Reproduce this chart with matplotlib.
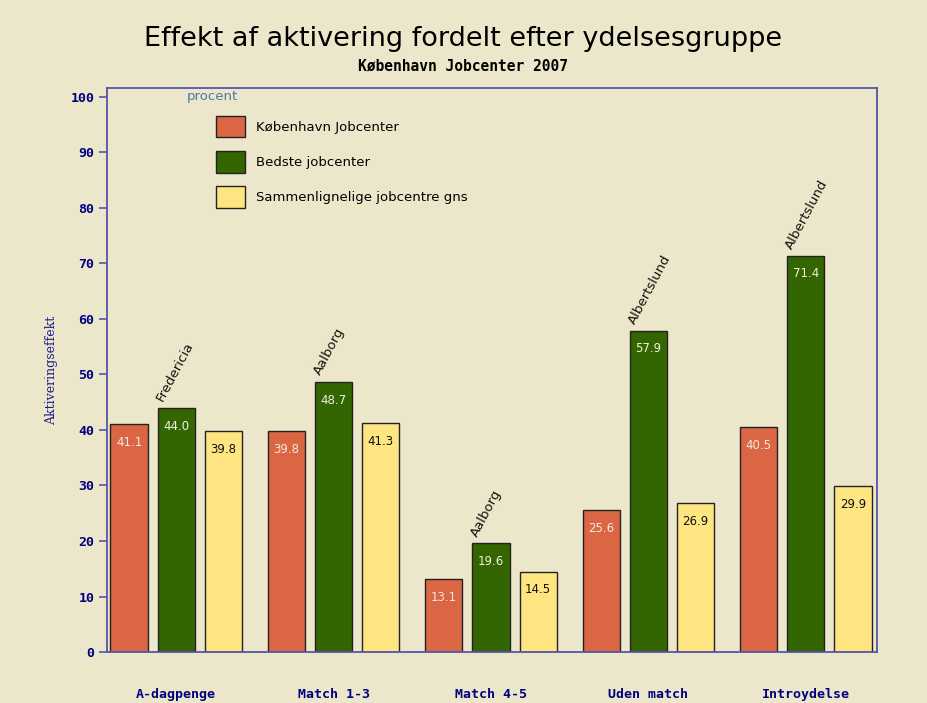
import numpy as np
import matplotlib.pyplot as plt
from matplotlib.patches import Patch

# --- data ---
categories = ["A-dagpenge", "Match 1-3", "Match 4-5", "Uden match", "Introydelse"]
kbh = [41.1, 39.8, 13.1, 25.6, 40.5]
bedste = [44.0, 48.7, 19.6, 57.9, 71.4]
sammen = [39.8, 41.3, 14.5, 26.9, 29.9]
bedste_navn = ["Fredericia", "Aalborg", "Aalborg", "Albertslund", "Albertslund"]
series_names = ["København Jobcenter", "Bedste jobcenter", "Sammenlignelige jobcentre gns"]

bg = "#ECE7CA"
colors = ["#DB6644", "#336600", "#FFE482"]
txt_colors = ["#F4E8E0", "#F0F0E0", "#111111"]
navy = "#000080"

fig = plt.figure(figsize=(9.27, 7.03), dpi=100, facecolor=bg)
ax = fig.add_axes([0.1154, 0.0725, 0.8306, 0.8023], facecolor=bg)

x = np.arange(len(categories))
pitch, width = 0.30, 0.236
for k, (vals, c, tc) in enumerate(zip([kbh, bedste, sammen], colors, txt_colors)):
    pos = x + (k - 1) * pitch
    ax.bar(pos, vals, width, color=c, edgecolor="#222222", linewidth=1.0, zorder=2)
    for p, v in zip(pos, vals):
        ax.text(p, v - 3.3, f"{v:.1f}", ha="center", va="center", fontsize=8.5, color=tc, zorder=3)

# names of the best jobcenter above the green bars
for p, v, name in zip(x, bedste, bedste_navn):
    ax.text(p - 0.07, v + 0.8, name, rotation=62, rotation_mode="anchor",
            ha="left", va="bottom", fontsize=9.5, color="#111111")

ax.set_xlim(-0.44, 4.452)
ax.set_ylim(0, 101.6)
ax.set_yticks(np.arange(0, 101, 10))
ax.set_xticks(x)
ax.set_xticklabels(categories, family="DejaVu Sans Mono", fontweight="bold", fontsize=9.5, color=navy)
ax.tick_params(axis="x", length=0, pad=26)
ax.tick_params(axis="y", length=6, width=1.2, color="#5555AA", pad=3, labelcolor=navy)
for lab in ax.get_yticklabels():
    lab.set_family("DejaVu Sans Mono")
    lab.set_fontweight("bold")
    lab.set_fontsize(9.5)

for s in ax.spines.values():
    s.set_color("#5555AA")
    s.set_linewidth(1.3)

ax.set_ylabel("Aktiveringseffekt", family="DejaVu Serif", fontsize=9, color="#1A1A90", labelpad=9)

# legend
handles = [Patch(facecolor=c, edgecolor="#222222", linewidth=1.0) for c in colors]
leg = ax.legend(handles, series_names, loc="upper left", bbox_to_anchor=(0.141, 0.95),
                frameon=False, fontsize=9.5, handlelength=2.2, handleheight=2.1,
                labelspacing=1.05, handletextpad=0.9, borderpad=0, borderaxespad=0)
ax.text(0.104, 0.985, "procent", transform=ax.transAxes, ha="left", va="center",
        fontsize=9.5, color="#4A7AA8")

fig.text(0.5, 0.944, "Effekt af aktivering fordelt efter ydelsesgruppe", ha="center", va="center",
         fontsize=19.5, color="black")
fig.text(0.5, 0.906, "København Jobcenter 2007", ha="center", va="center",
         family="DejaVu Sans Mono", fontweight="bold", fontsize=10.5, color="black")

plt.savefig("out.png", dpi=100, facecolor=bg)
